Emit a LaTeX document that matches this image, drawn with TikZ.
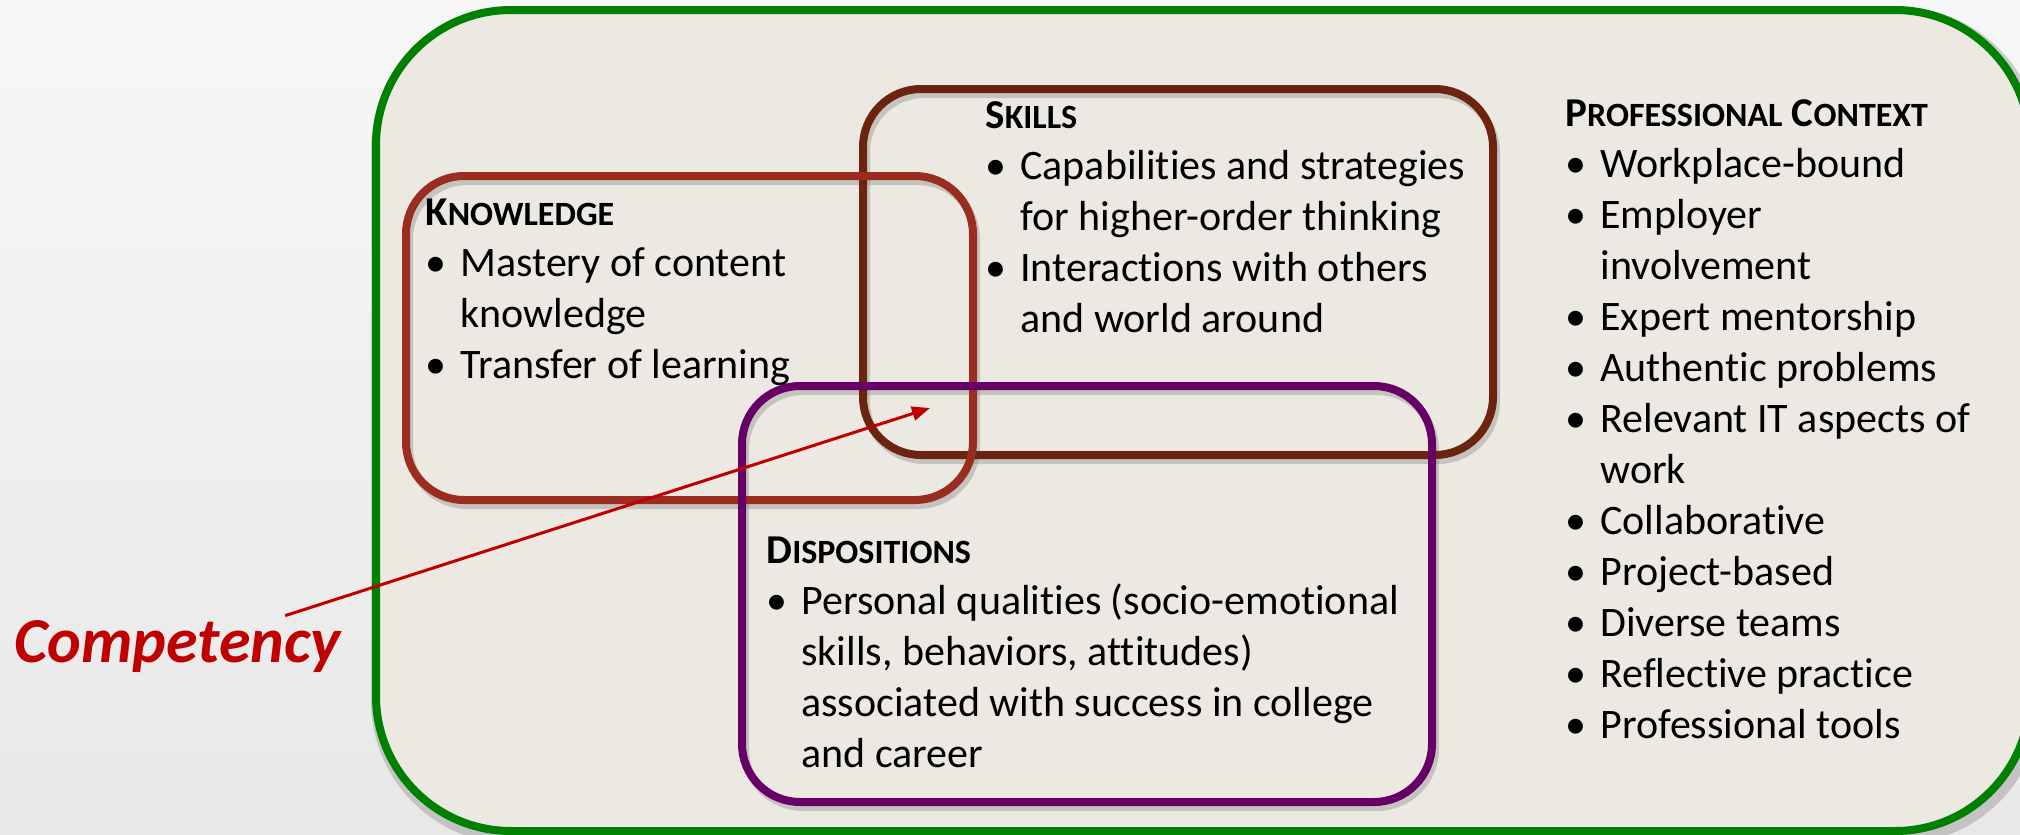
\documentclass[tikz,border=0pt]{standalone}
\usepackage{fontspec}
\setmainfont{Carlito}[Ligatures=NoCommon]
\usetikzlibrary{arrows.meta}

\definecolor{bgtop}{HTML}{F7F7F7}
\definecolor{bgbot}{HTML}{E8E8E8}
\definecolor{panel}{HTML}{ECE8E2}
\definecolor{framegreen}{RGB}{0,128,0}
\definecolor{knowcol}{RGB}{155,45,32}
\definecolor{skillcol}{RGB}{107,36,14}
\definecolor{dispcol}{RGB}{102,0,102}
\definecolor{compred}{RGB}{192,0,0}

\newcommand{\bul}{\makebox[17.5pt][l]{\textbullet}}
\newcommand{\ind}{\hspace*{17.5pt}}
\newcommand{\hd}[2]{{\bfseries\fontsize{20.5}{25.5}\selectfont #1\fontsize{17}{25.5}\selectfont #2}}

\begin{document}
\begin{tikzpicture}[x=0.5pt, y=-0.5pt, font=\fontsize{21}{25.5}\selectfont,
    box/.style={line width=4pt, rounded corners=29pt},
    boxshadow/.style={box, draw=black!45, opacity=.4, shift={(3,5)}},
    txt/.style={anchor=base west, align=left, inner sep=0pt}]
    \useasboundingbox (0,0) rectangle (2020,835);
    \clip (0,0) rectangle (2020,835);
    \shade[top color=bgtop, bottom color=bgbot] (0,0) rectangle (2020,835);
    % outer frame
    \draw[boxshadow, rounded corners=67.5pt, line width=8pt] (376,10) rectangle (2030,831);
    \draw[box, rounded corners=67.5pt, draw=framegreen, fill=panel] (376,10) rectangle (2030,831);
    % the three overlapping boxes
    \draw[boxshadow] (863,89) rectangle (1493,455);
    \draw[boxshadow] (406,176) rectangle (973,500);
    \draw[boxshadow] (742,386) rectangle (1432,802);
    \draw[box, draw=skillcol] (863,89) rectangle (1493,455);
    \draw[box, draw=knowcol] (406,176) rectangle (973,500);
    \draw[box, draw=dispcol] (742,386) rectangle (1432,802);

    % text blocks, placed at the baseline of their last line
    \node[txt] (know) at (425,378) {\hd{K}{NOWLEDGE}\\ \bul Mastery of content\\ \ind knowledge\\ \bul Transfer of learning};
    \node[txt] (skill) at (985,332) {\hd{S}{KILLS}\\ \bul Capabilities and strategies\\ \ind for higher-order thinking\\ \bul Interactions with others\\ \ind and world around};
    \node[txt] (disp) at (766,767) {\hd{D}{ISPOSITIONS}\\ \bul Personal qualities (socio-emotional\\ \ind skills, behaviors, attitudes)\\ \ind associated with success in college\\ \ind and career};
    \node[txt] (context) at (1565,738) {\hd{P}{ROFESSIONAL} \hd{C}{ONTEXT}\\ \bul Workplace-bound\\ \bul Employer\\ \ind involvement\\ \bul Expert mentorship\\ \bul Authentic problems\\ \bul Relevant IT aspects of\\ \ind work\\ \bul Collaborative\\ \bul Project-based\\ \bul Diverse teams\\ \bul Reflective practice\\ \bul Professional tools};

    \node[anchor=base west, inner sep=0pt, text=compred, font=\fontsize{32}{38}\selectfont\bfseries\itshape] (comp) at (14,662) {Competency};
    \coordinate (tip) at (930,408);
    \draw[compred, line width=1.5pt, -{Triangle[length=9pt,width=7pt]}] ([shift={(-56,-4)}]comp.north east) -- (tip);
\end{tikzpicture}
\end{document}
